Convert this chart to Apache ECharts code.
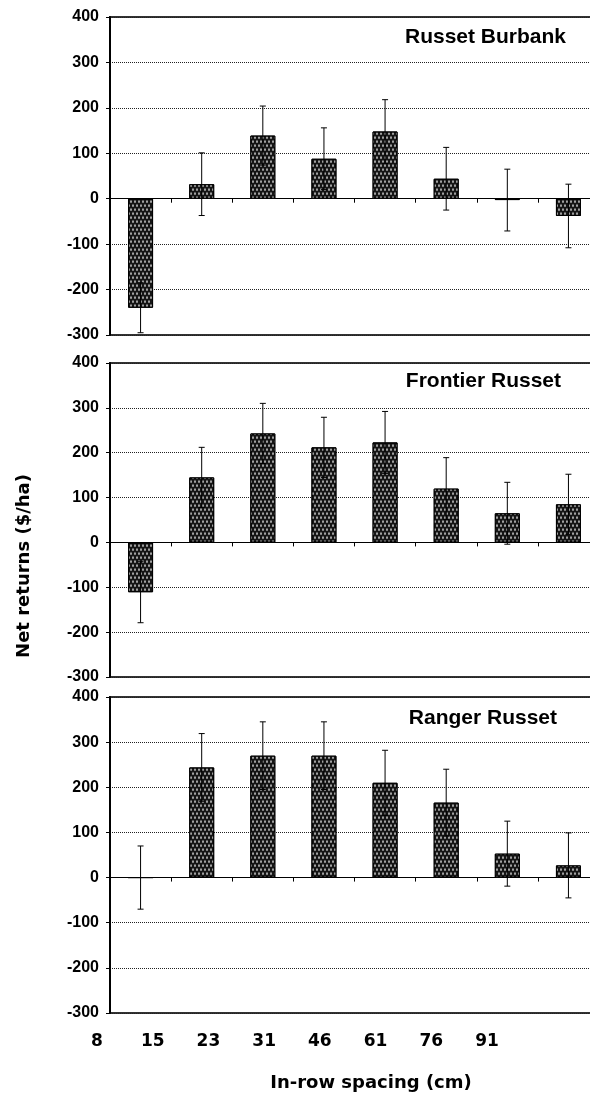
<!DOCTYPE html>
<html>
<head>
<meta charset="utf-8">
<script src="https://cdn.jsdelivr.net/npm/echarts@6/dist/echarts.min.js"></script>
<style>
html,body{margin:0;padding:0;background:#fff;}
#chart{width:590px;height:1096px;}
</style>
</head>
<body>
<div id="chart"></div>
<script>
const categories = ['8','15','23','31','46','61','76','91'];
const tickLabels = ['8','15','23','31','46','61','76','91'];
const panelTitles = ['Russet Burbank','Frontier Russet','Ranger Russet'];
const burbankValues = [-240, 32, 139, 88, 148, 44, -3, -38];
const burbankErrors = [55, 69, 65, 68, 70, 69, 68, 70];
const frontierValues = [-111, 145, 243, 212, 223, 120, 65, 85];
const frontierErrors = [68, 67, 67, 67, 69, 69, 69, 67];
const rangerValues = [0, 244, 270, 270, 210, 166, 53, 27];
const rangerErrors = [70, 75, 75, 75, 72, 74, 72, 72];
const yAxisName = 'Net returns ($/ha)';
const xAxisName = 'In-row spacing (cm)';

const panels = [
  {values: burbankValues, errors: burbankErrors},
  {values: frontierValues, errors: frontierErrors},
  {values: rangerValues, errors: rangerErrors}
];
const gridTops = [17, 363, 697];
const gridHeights = [318, 314, 316];
const titleRight = [566, 561, 557];
const titleMid = [39, 383, 720];

const chart = echarts.init(document.getElementById('chart'), null, {renderer: 'canvas'});

const grids = [], xAxes = [], yAxes = [], series = [], graphics = [];
panels.forEach((p, i) => {
  grids.push({left: 110, width: 489, top: gridTops[i], height: gridHeights[i], show: true,
    outerBoundsMode: 'none', containLabel: false,
    borderColor: '#333', borderWidth: 2, backgroundColor: 'transparent'});
  xAxes.push({type: 'category', gridIndex: i, data: categories,
    axisLine: {show: true, onZero: true, lineStyle: {color: '#000', width: 1}},
    axisTick: {show: true, length: 4, alignWithLabel: false, lineStyle: {color: '#000'}},
    axisLabel: {show: false}, splitLine: {show: false}});
  yAxes.push({type: 'value', gridIndex: i, min: -300, max: 400, interval: 100,
    axisLine: {show: true, lineStyle: {color: '#000', width: 2}},
    axisTick: {show: true, length: 4, lineStyle: {color: '#000'}},
    axisLabel: {margin: 11, color: '#000', fontFamily: 'Liberation Sans, Arial', fontWeight: 'bold', fontSize: 16},
    splitLine: {show: true, lineStyle: {type: 'dotted', color: '#222', width: 1}}});
  series.push({type: 'bar', xAxisIndex: i, yAxisIndex: i, data: p.values, barWidth: 25,
    itemStyle: {color: '#151515', borderColor: '#000', borderWidth: 1,
      decal: {symbol: 'rect', symbolSize: 0.75, color: 'rgba(255,255,255,0.8)',
        dashArrayX: [[2, 2], [0, 2, 2, 0]], dashArrayY: [3, 1], rotation: 0}},
    emphasis: {disabled: true}, animation: false});
  series.push({type: 'custom', xAxisIndex: i, yAxisIndex: i, z: 5,
    data: p.values.map((v, k) => [k, v, p.errors[k]]),
    encode: {x: 0, y: 1},
    renderItem: function (params, api) {
      const k = api.value(0), v = api.value(1), e = api.value(2);
      const hi = api.coord([k, v + e]);
      const lo = api.coord([k, v - e]);
      const c = 3;
      const st = {stroke: '#000', lineWidth: 1};
      return {type: 'group', children: [
        {type: 'line', shape: {x1: hi[0], y1: hi[1], x2: lo[0], y2: lo[1]}, style: st},
        {type: 'line', shape: {x1: hi[0] - c, y1: hi[1], x2: hi[0] + c, y2: hi[1]}, style: st},
        {type: 'line', shape: {x1: lo[0] - c, y1: lo[1], x2: lo[0] + c, y2: lo[1]}, style: st}
      ]};
    }, animation: false});
  graphics.push({type: 'text', right: 590 - titleRight[i], top: titleMid[i] - 12,
    style: {text: panelTitles[i], fill: '#000', font: 'bold 21px "Liberation Sans", Arial'}});
});

// label row
grids.push({left: 97, width: 390, top: 1020, height: 2, show: false, outerBoundsMode: 'none', containLabel: false});
xAxes.push({type: 'category', gridIndex: 3, data: tickLabels, boundaryGap: false,
  axisLine: {show: false}, axisTick: {show: false},
  axisLabel: {show: true, interval: 0, margin: 11, color: '#000', fontFamily: 'DejaVu Sans', fontWeight: 'bold', fontSize: 17}});
yAxes.push({type: 'value', gridIndex: 3, show: false});

graphics.push({type: 'text', x: 24, y: 566, rotation: Math.PI / 2,
  style: {text: yAxisName, fill: '#000', font: 'bold 18px "DejaVu Sans"', textAlign: 'center', textVerticalAlign: 'middle'}});
graphics.push({type: 'text', x: 371, y: 1083,
  style: {text: xAxisName, fill: '#000', font: 'bold 18px "DejaVu Sans"', textAlign: 'center', textVerticalAlign: 'middle'}});

chart.setOption({
  animation: false,
  backgroundColor: '#fff',
  grid: grids, xAxis: xAxes, yAxis: yAxes, series: series, graphic: graphics
});
</script>
</body>
</html>
